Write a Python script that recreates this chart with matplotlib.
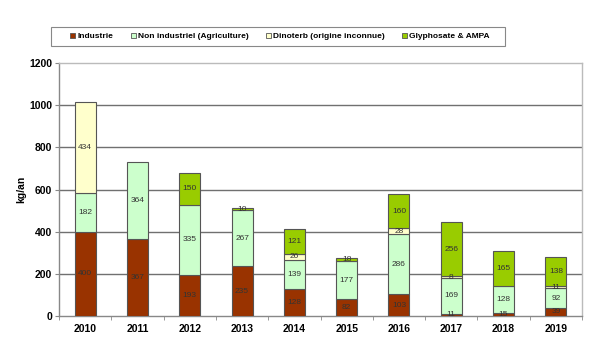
import matplotlib
matplotlib.use("Agg")
import matplotlib.pyplot as plt
import numpy as np
from matplotlib.patches import Patch, Rectangle

plt.rcParams['font.family'] = ['Liberation Sans', 'DejaVu Sans']

years = ["2010", "2011", "2012", "2013", "2014", "2015", "2016", "2017", "2018", "2019"]
industrie = [400, 367, 193, 235, 128, 82, 103, 11, 15, 39]
non_industriel = [182, 364, 335, 267, 139, 177, 286, 169, 128, 92]
dinoterb = [434, 0, 0, 0, 26, 0, 28, 8, 0, 11]
glyphosate = [0, 0, 150, 10, 121, 18, 160, 256, 165, 138]

series = [
    ("Industrie", industrie, "#993300"),
    ("Non industriel (Agriculture)", non_industriel, "#CCFFCC"),
    ("Dinoterb (origine inconnue)", dinoterb, "#FFFFCC"),
    ("Glyphosate & AMPA", glyphosate, "#99CC00"),
]

fig = plt.figure(figsize=(6.04, 3.45), dpi=100)
ax = fig.add_axes([59/604, 29/345, (582-59)/604, (316-63)/345])

x = np.arange(len(years))
bottom = np.zeros(len(years))
for name, vals, color in series:
    vals = np.array(vals, dtype=float)
    mask = vals > 0
    ax.bar(x[mask], vals[mask], bottom=bottom[mask], width=0.4, color=color,
           edgecolor="#555555", linewidth=0.8, zorder=3)
    for xi, v, b in zip(x, vals, bottom):
        if v > 0:
            ax.text(xi, b + v / 2, f"{int(v)}", ha="center", va="center",
                    fontsize=6, color="#333333", zorder=4)
    bottom += vals

ax.set_xlim(-0.5, len(years) - 0.5)
ax.set_ylim(0, 1200)
ax.set_yticks(np.arange(0, 1201, 200))
ax.set_yticklabels([str(v) for v in range(0, 1201, 200)], fontsize=7.5, fontweight="bold")
ax.set_xticks(x)
ax.set_xticklabels(years, fontsize=7.5, fontweight="bold")
ax.set_xticks(np.arange(-0.5, len(years)), minor=True)
ax.tick_params(axis="x", which="major", length=0, pad=6)
ax.tick_params(axis="x", which="minor", length=3, color="#888888", direction="out")
ax.tick_params(axis="y", length=3, color="#888888", direction="out", pad=2)

for yv in range(200, 1001, 200):
    ax.axhline(yv, color="#707070", linewidth=1.0, zorder=1)

for side in ["top", "right"]:
    ax.spines[side].set_color("#BBBBBB")
    ax.spines[side].set_linewidth(1.0)
for side in ["left", "bottom"]:
    ax.spines[side].set_color("#888888")
    ax.spines[side].set_linewidth(1.0)

ax.set_ylabel("kg/an", fontsize=7.5, fontweight="bold", labelpad=2)

# legend frame
fig.patches.append(Rectangle((51/604, 1 - 46/345), (505-51)/604, (46-27)/345,
                             transform=fig.transFigure, facecolor="white",
                             edgecolor="#888888", linewidth=0.8, zorder=0))

handles = [Patch(facecolor=c, edgecolor="#555555", linewidth=0.6, label=n) for n, _, c in series]
leg = fig.legend(handles=handles, loc="center", ncol=4,
                 bbox_to_anchor=(280/604, 1 - 36.5/345),
                 frameon=False,
                 handlelength=0.6, handleheight=0.6, handletextpad=0.25,
                 columnspacing=2.1, borderpad=0.0, borderaxespad=0,
                 prop={"weight": "bold", "size": 6})

fig.savefig("out.png", dpi=100)
